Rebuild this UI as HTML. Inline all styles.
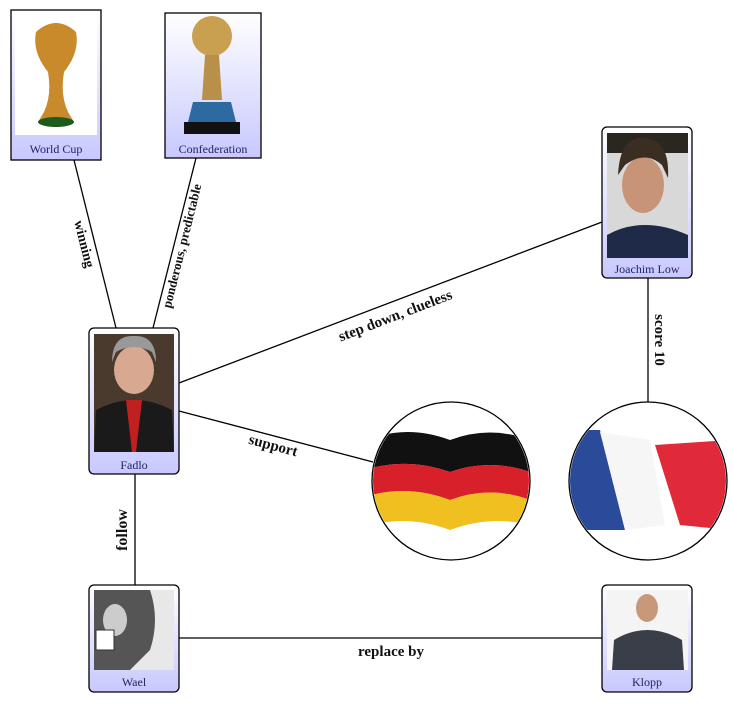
<!DOCTYPE html>
<html><head><meta charset="utf-8"><style>
html,body{margin:0;padding:0;background:#fff}
svg{display:block}
text{font-family:"Liberation Serif",serif}
</style></head><body>
<svg width="733" height="706" viewBox="0 0 733 706" xmlns="http://www.w3.org/2000/svg">
<defs>
<linearGradient id="bg" x1="0" y1="0" x2="0" y2="1"><stop offset="0" stop-color="#fff"/><stop offset="1" stop-color="#c8c8ff"/></linearGradient>
<clipPath id="cg"><circle cx="451" cy="481" r="78"/></clipPath>
<clipPath id="cf"><circle cx="648" cy="481" r="78"/></clipPath>
</defs>
<g stroke="#000" stroke-width="1.3" fill="none">
<line x1="74" y1="160" x2="116" y2="328"/>
<line x1="196" y1="158" x2="153" y2="328"/>
<line x1="179" y1="383" x2="602" y2="222"/>
<line x1="179" y1="411" x2="373" y2="462"/>
<line x1="135" y1="474" x2="135" y2="585"/>
<line x1="179" y1="638" x2="602" y2="638"/>
<line x1="648" y1="278" x2="648" y2="402"/>
</g>
<!-- World Cup -->
<rect x="11" y="10" width="90" height="150" fill="url(#bg)" stroke="#000" stroke-width="1.3"/>
<rect x="15" y="14" width="82" height="121" fill="#fff"/>
<path d="M36 32 Q56 14 76 32 Q80 52 64 72 Q60 95 68 112 L74 122 Q56 132 38 122 L44 112 Q52 95 48 72 Q32 52 36 32Z" fill="#c88a2a"/>
<ellipse cx="56" cy="122" rx="18" ry="5" fill="#1d5a1d"/>
<text x="56" y="153" font-size="12" text-anchor="middle" fill="#222266">World Cup</text>
<!-- Confederation -->
<rect x="165" y="13" width="96" height="145" fill="url(#bg)" stroke="#000" stroke-width="1.3"/>
<circle cx="212" cy="36" r="20" fill="#c8a050"/>
<path d="M205 55 L219 55 L222 100 L202 100Z" fill="#b8904a"/>
<path d="M193 102 L231 102 L236 122 L188 122Z" fill="#2c6aa0"/>
<rect x="184" y="122" width="56" height="12" fill="#111"/>
<text x="213" y="153" font-size="12" text-anchor="middle" fill="#222266">Confederation</text>
<!-- Fadlo -->
<rect x="89" y="328" width="90" height="146" rx="5" fill="url(#bg)" stroke="#000" stroke-width="1.3"/>
<rect x="94" y="334" width="80" height="118" fill="#4a3a2e"/>
<ellipse cx="134" cy="370" rx="20" ry="24" fill="#d8a890"/>
<path d="M112 362 Q112 335 134 336 Q156 335 156 362 L152 352 Q134 342 116 352Z" fill="#999"/>
<path d="M94 452 L96 410 Q134 390 172 410 L174 452Z" fill="#1a1a1a"/>
<path d="M126 400 L142 400 L136 452 L132 452Z" fill="#c02020"/>
<text x="134" y="469" font-size="12" text-anchor="middle" fill="#222266">Fadlo</text>
<!-- Wael -->
<rect x="89" y="585" width="90" height="107" rx="5" fill="url(#bg)" stroke="#000" stroke-width="1.3"/>
<rect x="94" y="590" width="80" height="80" fill="#e8e8e8"/>
<path d="M94 590 L150 590 Q160 620 150 650 L130 670 L94 670Z" fill="#555"/>
<ellipse cx="115" cy="620" rx="12" ry="16" fill="#ccc"/>
<rect x="96" y="630" width="18" height="20" fill="#fff" stroke="#333"/>
<text x="134" y="686" font-size="12" text-anchor="middle" fill="#222266">Wael</text>
<!-- Joachim -->
<rect x="602" y="127" width="90" height="151" rx="5" fill="url(#bg)" stroke="#000" stroke-width="1.3"/>
<rect x="607" y="133" width="81" height="125" fill="#d8d8d8"/>
<rect x="607" y="133" width="81" height="20" fill="#2a2620"/>
<ellipse cx="643" cy="185" rx="21" ry="28" fill="#c89478"/>
<path d="M618 175 Q620 135 645 138 Q670 140 668 178 L662 165 Q645 150 625 165Z" fill="#3a2e22"/>
<path d="M607 258 L607 235 Q643 215 688 235 L688 258Z" fill="#1e2a48"/>
<text x="647" y="273" font-size="12" text-anchor="middle" fill="#222266">Joachim Low</text>
<!-- Klopp -->
<rect x="602" y="585" width="90" height="107" rx="5" fill="url(#bg)" stroke="#000" stroke-width="1.3"/>
<rect x="607" y="590" width="81" height="80" fill="#f4f4f4"/>
<ellipse cx="647" cy="608" rx="11" ry="14" fill="#c8987a"/>
<path d="M612 670 L614 640 Q647 620 682 640 L684 670Z" fill="#3a3e48"/>
<text x="647" y="686" font-size="12" text-anchor="middle" fill="#222266">Klopp</text>
<!-- Germany -->
<circle cx="451" cy="481" r="79" fill="#fff" stroke="#000" stroke-width="1.3"/>
<g clip-path="url(#cg)">
<path d="M372 438 Q410 425 450 440 Q490 425 530 440 L530 472 Q490 458 450 472 Q410 458 372 468Z" fill="#111"/>
<path d="M372 468 Q410 458 450 472 Q490 458 530 472 L530 500 Q490 485 450 500 Q410 485 372 495Z" fill="#d8202a"/>
<path d="M372 495 Q410 485 450 500 Q490 485 530 500 L530 525 Q490 515 450 530 Q410 515 372 525Z" fill="#f0c020"/>
</g>
<!-- France -->
<circle cx="648" cy="481" r="79" fill="#fff" stroke="#000" stroke-width="1.3"/>
<g clip-path="url(#cf)">
<path d="M570 430 L600 430 L625 530 L570 530Z" fill="#2a4a9a"/>
<path d="M600 432 L650 440 L665 525 L625 530Z" fill="#f6f6f6"/>
<path d="M655 445 L730 440 L730 530 L680 525Z" fill="#e02a3a"/>
</g>
<!-- labels -->
<g font-weight="bold" font-size="14" fill="#111">
<text transform="translate(80,245) rotate(76)" text-anchor="middle">winning</text>
<text transform="translate(186,247) rotate(-76)" text-anchor="middle" font-size="13">ponderous, predictable</text>
<text transform="translate(397,320) rotate(-21)" text-anchor="middle" font-size="15">step down, clueless</text>
<text transform="translate(272,450) rotate(15)" text-anchor="middle" font-size="15">support</text>
<text transform="translate(127,530) rotate(-90)" text-anchor="middle" font-size="16">follow</text>
<text transform="translate(655,340) rotate(90)" text-anchor="middle" font-size="15">score 10</text>
<text x="391" y="656" text-anchor="middle" font-size="15">replace by</text>
</g>
</svg>
</body></html>
